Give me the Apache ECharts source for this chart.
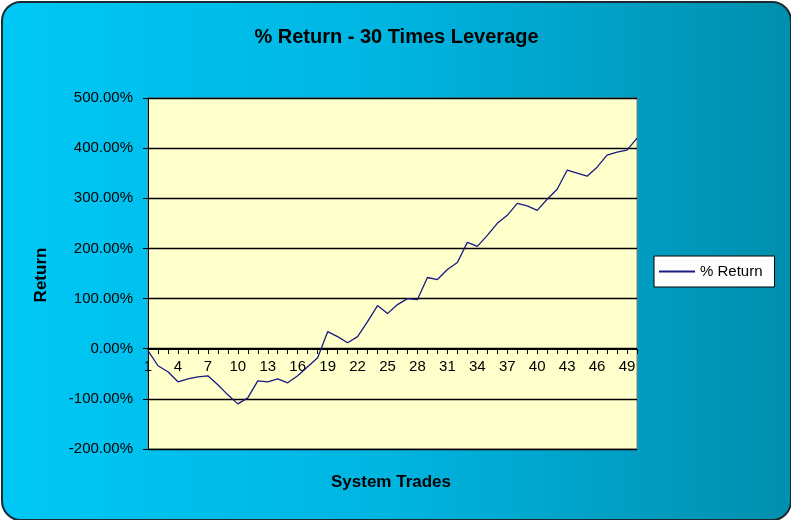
<!DOCTYPE html>
<html>
<head>
<meta charset="utf-8">
<script src="https://cdn.jsdelivr.net/npm/echarts@6/dist/echarts.min.js"></script>
<style>
html,body{margin:0;padding:0;background:#fff;}
#chart{position:absolute;left:1px;top:1px;width:787px;height:516px;border:2px solid #1c2a30;border-radius:20px;
background:linear-gradient(to right,#00c8f6 0%,#00b4e0 50%,#008fae 100%);}
</style>
</head>
<body>
<div id="chart"></div>
<script>
const categories = Array.from({length:50},(_,i)=>String(i+1));
const returnPct = [-4,-34,-46,-66,-60,-56,-54,-72,-92,-110,
  -98,-64,-66,-60,-68,-54,-36,-18,34,24,
  12,24,54,86,70,88,100,98,142,138,
  158,172,212,204,226,250,266,290,285,276,
  298,318,356,350,344,362,386,392,396,420];
const yMin = -200, yMax = 500, yStep = 100;

const chart = echarts.init(document.getElementById('chart'));
const FONT = 'Liberation Sans, Arial, sans-serif';
chart.setOption({
  backgroundColor:'transparent',
  animation:false,
  title:{text:'% Return - 30 Times Leverage',left:'center',top:19,
    textStyle:{fontFamily:FONT,fontSize:20,fontWeight:'bold',color:'#000'}},
  legend:{data:['% Return'],left:651,top:253,orient:'vertical',
    backgroundColor:'#fff',borderColor:'#000',borderWidth:1,padding:[8,12,8,5],
    itemWidth:36,itemHeight:2,icon:'rect',itemGap:4,
    textStyle:{fontFamily:FONT,fontSize:15,color:'#000'}},
  grid:{left:145,top:95,width:489,height:351,show:true,backgroundColor:'#ffffcc',borderColor:'#808080',borderWidth:1},
  xAxis:{type:'category',data:categories,boundaryGap:false,position:'bottom',offset:-100,
    axisLine:{onZero:false,lineStyle:{color:'#000',width:1}},
    axisTick:{show:true,interval:0,length:5,inside:false,lineStyle:{color:'#000'}},
    axisLabel:{interval:2,margin:10,fontFamily:FONT,fontSize:15,color:'#000'},
    splitLine:{show:false}},
  yAxis:{type:'value',min:yMin,max:yMax,interval:yStep,
    axisLine:{show:true,lineStyle:{color:'#000'}},
    axisTick:{show:true,length:5,lineStyle:{color:'#000'}},
    axisLabel:{margin:15,fontFamily:FONT,fontSize:15,color:'#000',
      formatter:v=>v.toFixed(2)+'%'},
    splitLine:{show:true,lineStyle:{color:'#000',width:1.3}}},
  graphic:[
    {type:'text',x:388,y:479,style:{text:'System Trades',font:'bold 17px '+FONT,fill:'#000',textAlign:'center',textVerticalAlign:'middle'}},
    {type:'text',x:38,y:272,rotation:Math.PI/2,style:{text:'Return',font:'bold 17px '+FONT,fill:'#000',textAlign:'center',textVerticalAlign:'middle'}}
  ],
  series:[{name:'% Return',type:'line',data:returnPct,showSymbol:false,symbol:'none',
    lineStyle:{color:'#1a1a80',width:1.3},itemStyle:{color:'#1a1a80'}}]
});
</script>
</body>
</html>
